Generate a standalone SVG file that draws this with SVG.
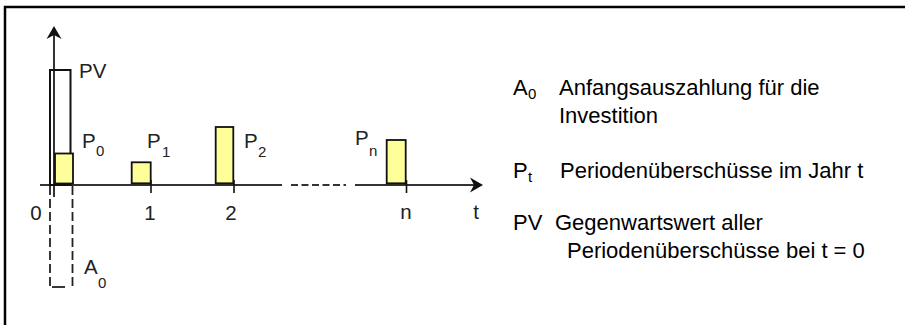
<svg xmlns="http://www.w3.org/2000/svg" width="905" height="325" viewBox="0 0 905 325">
  <defs>
    <style>
      .frame { fill: none; stroke: #000; stroke-width: 2.5; }
      .axis { fill: none; stroke: #333; stroke-width: 2; }
      .axis-dash { fill: none; stroke: #333; stroke-width: 2; stroke-dasharray: 7 3.5; }
      .arrow { fill: #111; stroke: none; }
      .bar { fill: #ffff99; stroke: #111; stroke-width: 1.8; }
      .pv { fill: none; stroke: #111; stroke-width: 2; }
      .neg { fill: none; stroke: #222; stroke-width: 1.8; stroke-dasharray: 9 4; }
      .tick { stroke: #111; stroke-width: 1.6; }
      .lbl { font-family: "Liberation Sans", Arial, sans-serif; font-size: 20.5px; fill: #222; }
      .sub { font-family: "Liberation Sans", Arial, sans-serif; font-size: 15px; fill: #222; }
      .leg { font-family: "Liberation Sans", Arial, sans-serif; font-size: 22px; fill: #000; }
      .legsub { font-family: "Liberation Sans", Arial, sans-serif; font-size: 15px; fill: #000; }
    </style>
  </defs>

  <!-- outer frame (right and bottom edges lie outside the canvas) -->
  <path class="frame" d="M5,330 V7 H910"/>

  <!-- axes -->
  <g id="axes">
    <line class="axis" x1="54" y1="197" x2="54" y2="32"/>
    <path class="arrow" d="M54,26 L61.5,39 L54,35 L46.5,39 Z"/>
    <line class="axis" x1="40" y1="185" x2="282" y2="185"/>
    <line class="axis-dash" x1="291" y1="185" x2="346" y2="185"/>
    <line class="axis" x1="355" y1="185" x2="477" y2="185"/>
    <path class="arrow" d="M483,185 L470,177.5 L474,185 L470,192.5 Z"/>
  </g>

  <!-- initial outlay A0 (dashed, below the axis) -->
  <g id="A0">
    <line class="neg" x1="50" y1="186" x2="50" y2="287"/>
    <line class="neg" x1="72.5" y1="186" x2="72.5" y2="287"/>
    <line stroke="#222" stroke-width="1.8" x1="52" y1="287" x2="65" y2="287"/>
    <text class="lbl" x="84" y="274">A</text>
    <text class="sub" x="98" y="288">0</text>
  </g>

  <!-- present value PV -->
  <g id="PV">
    <rect class="pv" x="50" y="70" width="20.5" height="115"/>
    <text class="lbl" x="79" y="78">PV</text>
  </g>

  <!-- period surpluses -->
  <g id="P0">
    <rect class="bar" x="55" y="153.5" width="18" height="30"/>
    <text class="lbl" x="82" y="148">P</text>
    <text class="sub" x="96" y="156">0</text>
  </g>
  <g id="P1">
    <rect class="bar" x="131.7" y="162.3" width="19" height="21"/>
    <line class="tick" x1="151" y1="180" x2="151" y2="193"/>
    <text class="lbl" x="147" y="148">P</text>
    <text class="sub" x="162" y="157">1</text>
  </g>
  <g id="P2">
    <rect class="bar" x="215.7" y="127" width="17.6" height="56.3"/>
    <line class="tick" x1="234" y1="180" x2="234" y2="193"/>
    <text class="lbl" x="244" y="148">P</text>
    <text class="sub" x="258" y="157">2</text>
  </g>
  <g id="Pn">
    <rect class="bar" x="386.7" y="140" width="19" height="43.3"/>
    <line class="tick" x1="406.5" y1="180" x2="406.5" y2="193"/>
    <text class="lbl" x="355" y="145">P</text>
    <text class="sub" x="369" y="156">n</text>
  </g>

  <!-- time axis labels -->
  <g id="time-labels" class="lbl" text-anchor="middle">
    <text x="36" y="220">0</text>
    <text x="150" y="220">1</text>
    <text x="231" y="220">2</text>
    <text x="406" y="219">n</text>
    <text x="476" y="219">t</text>
  </g>

  <!-- legend -->
  <g id="legend">
    <text class="leg" x="513" y="95">A</text>
    <text class="legsub" x="528" y="99">0</text>
    <text class="leg" x="559" y="95">Anfangsauszahlung für die</text>
    <text class="leg" x="559" y="123">Investition</text>

    <text class="leg" x="513" y="178">P</text>
    <text class="legsub" x="528" y="182">t</text>
    <text class="leg" x="560" y="178">Periodenüberschüsse im Jahr t</text>

    <text class="leg" x="513" y="230">PV</text>
    <text class="leg" x="555" y="230">Gegenwartswert aller</text>
    <text class="leg" x="567" y="258">Periodenüberschüsse bei t = 0</text>
  </g>
</svg>
